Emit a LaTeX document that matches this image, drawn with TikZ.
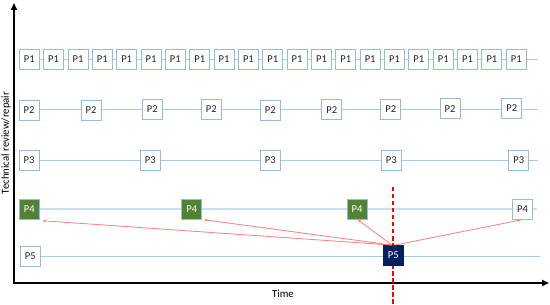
\documentclass[tikz,border=0pt]{standalone}
\usepackage{fontspec}
\setmainfont{Carlito}
\usetikzlibrary{arrows.meta}
\definecolor{boxblue}{HTML}{8FBCE6}
\definecolor{rowblue}{HTML}{A9CBEB}
\definecolor{rowlight}{HTML}{C9DEF2}
\definecolor{pgreen}{HTML}{548235}
\definecolor{pnavy}{HTML}{002060}
\definecolor{arrred}{HTML}{FF7C80}
\definecolor{dashred}{RGB}{255,0,0}
\begin{document}
\begin{tikzpicture}[x=1pt,y=-1pt,
  pbox/.style={draw=boxblue,line width=0.9pt,fill=white,minimum size=20pt,inner sep=0pt,font=\fontsize{10.5}{11}\selectfont,text=black!85},
  gbox/.style={pbox,fill=pgreen,text=white},
  nbox/.style={pbox,draw=pnavy,fill=pnavy,text=white},
  rowline/.style={draw=rowblue,line width=0.8pt},
  rowline4/.style={draw=rowlight,line width=1.6pt},
  axis/.style={line width=1.8pt,-{Triangle[length=7pt,width=6pt]}},
  redarr/.style={draw=arrred,line width=0.8pt,-{Stealth[length=3.5pt,width=3pt]}},
  vdash/.style={draw=dashred,line width=1.8pt,dash pattern=on 4.5pt off 2.5pt}]
\useasboundingbox (0,0) rectangle (550,305);
% row end coordinates
\coordinate (e1) at (538,59);
\coordinate (e2) at (538,109);
\coordinate (e3) at (538,160);
\coordinate (e4) at (537,209.3);
\coordinate (e5) at (540,256);
% row lines
\coordinate (s1) at (29,59);
\coordinate (s2) at (29,109);
\coordinate (s3) at (29,160);
\coordinate (s4) at (29,209.3);
\coordinate (s5) at (30,256);
\draw[rowline] (s1) -- (e1);
\draw[rowline] (s2) -- (e2);
\draw[rowline] (s3) -- (e3);
\draw[rowline4] (s4) -- (e4);
\draw[rowline] (s5) -- (e5);
% axes
\coordinate (origin) at (14,283);
\coordinate (ytop) at (14,3);
\coordinate (xend) at (549,283);
\draw[axis] ([yshift=-0.9pt]origin) -- (ytop);
\draw[axis] ([xshift=-0.9pt]origin) -- (xend);
% red dashed line
\coordinate (dtop) at (393.3,187);
\coordinate (dbot) at (393.3,305);
\draw[vdash] (dtop) -- (dbot);
\node[font=\fontsize{10.8}{11}\selectfont,rotate=90] (ylab) at (6,143) {Technical review/repair};
\node[font=\fontsize{10.8}{11}\selectfont] (xlab) at (283,294) {Time};
% P1 row
\foreach \k in {0,...,20} {
  \node[pbox] (p1-\k) at ({29.25+24.35*\k},59) {P1};
}
% P2 row
\foreach \x/\y [count=\i] in {29/110,91/110,152.3/109.3,211.3/109,270.3/110,331.7/109.7,390.7/109.2,450/108.7,511.7/108} {
  \node[pbox] (p2-\i) at (\x,\y) {P2};
}
% P3 row
\foreach \x [count=\i] in {29,150.3,270.3,391.3,518.7} {
  \node[pbox] (p3-\i) at (\x,160) {P3};
}
% P4 row
\node[gbox] (p4a) at (29.2,209.3) {P4};
\node[gbox] (p4b) at (191.7,209.3) {P4};
\node[gbox] (p4c) at (357,209.3) {P4};
\node[pbox] (p4d) at (522.5,209) {P4};
% P5 row
\node[pbox] (p5a) at (30.3,256) {P5};
\node[nbox] (p5) at (393.3,255.5) {P5};
% red arrows
\draw[redarr] ([xshift=-1.5pt]p5.north) -- ([xshift=3pt,yshift=-1pt]p4a.south east);
\draw[redarr] ([xshift=-1.5pt]p5.north) -- ([xshift=2pt]p4b.south east);
\draw[redarr] ([xshift=-1.5pt]p5.north) -- ([xshift=1pt]p4c.south);
\draw[redarr] ([xshift=1.5pt]p5.north) -- ([xshift=-1.5pt,yshift=-0.5pt]p4d.south);
\end{tikzpicture}
\end{document}
